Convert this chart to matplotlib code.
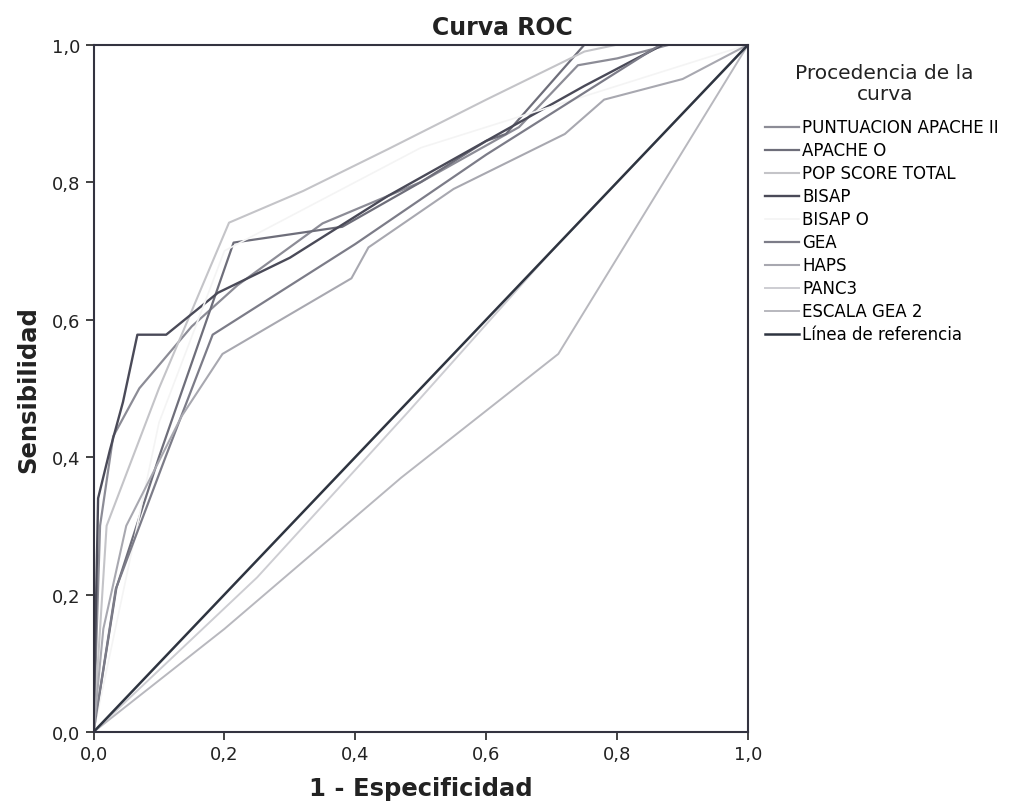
import matplotlib
matplotlib.use("Agg")
import matplotlib.pyplot as plt
from matplotlib.ticker import FuncFormatter

# ROC curves (1 - specificity, sensitivity)
apache2_x = [0, 0.01, 0.03, 0.07, 0.15, 0.22, 0.35, 0.5, 0.65, 0.74, 0.8, 0.88, 1]
apache2_y = [0, 0.30, 0.43, 0.50, 0.59, 0.65, 0.74, 0.80, 0.88, 0.97, 0.98, 1.0, 1]

apache0_x = [0, 0.035, 0.1, 0.214, 0.38, 0.5, 0.6, 0.63, 0.75, 1]
apache0_y = [0, 0.21, 0.40, 0.712, 0.735, 0.80, 0.86, 0.87, 1.0, 1]

pop_x = [0, 0.02, 0.1, 0.207, 0.32, 0.45, 0.6, 0.75, 0.8, 1]
pop_y = [0, 0.30, 0.50, 0.741, 0.787, 0.848, 0.92, 0.99, 1.0, 1]

bisap_x = [0, 0.007, 0.025, 0.045, 0.067, 0.111, 0.19, 0.3, 0.45, 0.6, 0.75, 0.87, 1]
bisap_y = [0, 0.34, 0.41, 0.48, 0.578, 0.578, 0.639, 0.69, 0.78, 0.86, 0.94, 1.0, 1]

bisap0_x = [0, 0.1, 0.2, 0.5, 1]
bisap0_y = [0, 0.45, 0.70, 0.85, 1]

gea_x = [0, 0.034, 0.11, 0.182, 0.4, 0.6, 0.866, 1]
gea_y = [0, 0.208, 0.40, 0.578, 0.71, 0.84, 1.0, 1]

haps_x = [0, 0.015, 0.05, 0.135, 0.197, 0.394, 0.42, 0.55, 0.72, 0.78, 0.9, 1]
haps_y = [0, 0.15, 0.30, 0.46, 0.55, 0.66, 0.705, 0.79, 0.87, 0.92, 0.95, 1]

panc3_x = [0, 0.25, 0.48, 0.7, 1]
panc3_y = [0, 0.225, 0.465, 0.70, 1]

gea2_x = [0, 0.2, 0.47, 0.71, 1]
gea2_y = [0, 0.15, 0.37, 0.55, 1]

ref_x = [0, 1]
ref_y = [0, 1]

labels = ["PUNTUACION APACHE II", "APACHE O", "POP SCORE TOTAL", "BISAP", "BISAP O",
          "GEA", "HAPS", "PANC3", "ESCALA GEA 2", "Línea de referencia"]
curves = [(apache2_x, apache2_y), (apache0_x, apache0_y), (pop_x, pop_y),
          (bisap_x, bisap_y), (bisap0_x, bisap0_y), (gea_x, gea_y),
          (haps_x, haps_y), (panc3_x, panc3_y), (gea2_x, gea2_y), (ref_x, ref_y)]
colors = ["#8c8c96", "#6e6e7a", "#c4c4c8", "#4a4a58", "#f4f4f4",
          "#7c7c88", "#a8a8b0", "#cdcdd2", "#b8b8be", "#2e3440"]
widths = [1.6, 1.6, 1.5, 1.7, 1.2, 1.6, 1.5, 1.4, 1.4, 1.8]

fig = plt.figure(figsize=(10.11, 8.12), dpi=100)
ax = fig.add_axes([0.0925, 0.0973, 0.6475, 0.8465])

for (x, y), lab, c, w in zip(curves, labels, colors, widths):
    ax.plot(x, y, color=c, lw=w, label=lab)

ax.set_xlim(0, 1)
ax.set_ylim(0, 1)
ticks = [0, 0.2, 0.4, 0.6, 0.8, 1.0]
ax.set_xticks(ticks)
ax.set_yticks(ticks)
fmt = FuncFormatter(lambda v, p: "{0:.1f}".format(v).replace(".", ","))
ax.xaxis.set_major_formatter(fmt)
ax.yaxis.set_major_formatter(fmt)
ax.tick_params(direction="out", length=6, width=1.2, labelsize=13, colors="#222222")
for s in ax.spines.values():
    s.set_linewidth(1.5)
    s.set_color("#333340")

# SPSS centres the title over the whole chart, legend included
fig.text(0.497, 0.965, "Curva ROC", ha="center", va="center", fontsize=17,
         fontweight="bold", color="#222222")
ax.set_xlabel("1 - Especificidad", fontsize=17.5, fontweight="bold", color="#222222", labelpad=9)
ax.set_ylabel("Sensibilidad", fontsize=17.5, fontweight="bold", color="#222222", labelpad=8)

fig.text(0.875, 0.8966, "Procedencia de la\ncurva", ha="center", va="center",
         multialignment="center", fontsize=14.5, color="#222222", linespacing=1.15)
fig.legend(loc="upper left", bbox_to_anchor=(0.757, 0.853), frameon=False,
           fontsize=12, handlelength=2.0, handletextpad=0.2, labelspacing=0.3,
           borderpad=0, borderaxespad=0)

fig.savefig("out.png", dpi=100)
